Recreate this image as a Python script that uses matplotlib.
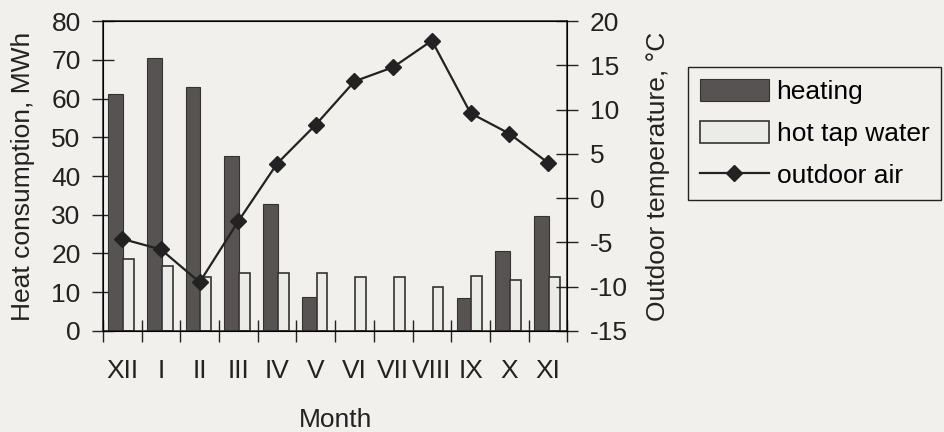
import matplotlib
matplotlib.use('Agg')
import matplotlib.pyplot as plt
import numpy as np

months = ['XII', 'I', 'II', 'III', 'IV', 'V', 'VI', 'VII', 'VIII', 'IX', 'X', 'XI']
heating = [61.3, 70.5, 63.0, 45.2, 32.7, 8.7, 0, 0, 0, 8.6, 20.6, 29.7]
hot_tap_water = [18.5, 16.8, 14.0, 14.9, 14.9, 14.9, 13.8, 13.8, 11.4, 14.2, 13.2, 13.8]
outdoor_air = [-4.6, -5.8, -9.5, -2.6, 3.9, 8.3, 13.2, 14.8, 17.8, 9.6, 7.3, 4.0]

paper = '#f1f0ec'
ink = '#222222'
fs = 19
plt.rcParams['font.family'] = ['Liberation Sans', 'DejaVu Sans']
plt.rcParams['font.size'] = fs
plt.rcParams['axes.unicode_minus'] = False

fig = plt.figure(figsize=(9.44, 4.32), dpi=100, facecolor=paper)
ax = fig.add_axes([0.109, 0.234, 0.492, 0.717], facecolor=paper)
x = np.arange(len(months))

ax.bar(x - 0.36, heating, width=0.38, align='edge', color='#575353',
       edgecolor='#333333', linewidth=0.8, label='heating', zorder=2)
ax.bar(x + 0.02, hot_tap_water, width=0.28, align='edge', color='#ebebe7',
       edgecolor='#333333', linewidth=1.2, label='hot tap water', zorder=2)

ax.set_xlim(-0.5, len(months) - 0.5)
ax.set_ylim(0, 80)
ax.set_yticks(range(0, 81, 10))
ax.set_xticks(np.arange(-0.5, len(months)))
ax.set_xticklabels([])
ax.set_xticks(x, minor=True)
ax.set_xticklabels(months, minor=True)
ax.tick_params(axis='x', which='major', direction='inout', length=16, width=1, color=ink)
ax.tick_params(axis='x', which='minor', length=0, pad=20, labelsize=fs, colors=ink)
ax.tick_params(axis='y', direction='inout', length=16, width=1, pad=8, labelsize=fs, colors=ink)
for s in ax.spines.values():
    s.set_color(ink)
    s.set_linewidth(1.1)
ax.set_ylabel('Heat consumption, MWh', fontsize=fs, color=ink, labelpad=12)
ax.set_xlabel('Month', fontsize=fs, color=ink, labelpad=18)

ax2 = ax.twinx()
ax2.plot(x, outdoor_air, color=ink, linewidth=1.6, marker='D', markersize=8.5,
         markerfacecolor=ink, markeredgecolor=ink, label='outdoor air', zorder=3)
ax2.set_ylim(-15, 20)
ax2.set_yticks(range(-15, 21, 5))
ax2.tick_params(axis='y', direction='inout', length=16, width=1, pad=8, labelsize=fs, colors=ink)
ax2.set_ylabel('Outdoor temperature, °C', fontsize=fs, color=ink, labelpad=13)

h1, l1 = ax.get_legend_handles_labels()
h2, l2 = ax2.get_legend_handles_labels()
leg = fig.legend(h1 + h2, l1 + l2, loc='upper right', bbox_to_anchor=(0.997, 0.845),
                 fontsize=fs, frameon=True, fancybox=False, framealpha=1,
                 facecolor=paper, edgecolor=ink, handlelength=2.6, handleheight=0.9,
                 handletextpad=0.3, labelspacing=0.65, borderpad=0.45, borderaxespad=0)
leg.get_frame().set_linewidth(1.0)

fig.savefig('out.png', dpi=100, facecolor=paper)
